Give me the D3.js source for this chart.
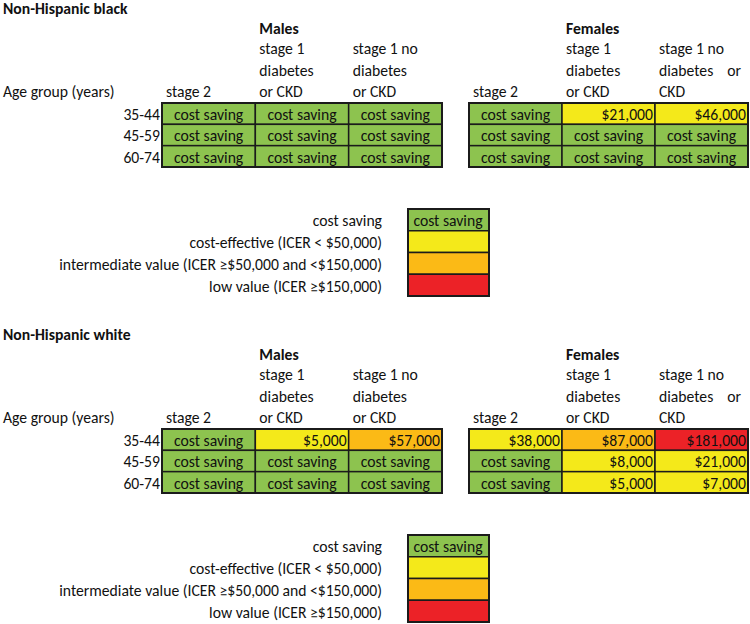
<!DOCTYPE html>
<html><head><meta charset="utf-8">
<script src="https://cdn.jsdelivr.net/npm/d3@7"></script>
<style>body{margin:0;background:#fff}svg{display:block}text{font-family:Carlito,Calibri,Lato,sans-serif;fill:#111}</style>
</head><body><svg id="c" width="750" height="624"></svg>
<script>
const sections = ["Non-Hispanic black", "Non-Hispanic white"];
const sexes = ["Males", "Females"];
const ageGroups = ["35-44", "45-59", "60-74"];
const columns = ["stage 2", "stage 1 diabetes or CKD", "stage 1 no diabetes or CKD"];
const headerLinesMales = [["stage 2"], ["stage 1", "diabetes", "or CKD"], ["stage 1 no", "diabetes", "or CKD"]];
const headerLinesFemales = [["stage 2"], ["stage 1", "diabetes", "or CKD"], ["stage 1 no", "diabetes|or", "CKD"]];
// ICER values in $; null = cost saving
const blackMales = [[null, null, null], [null, null, null], [null, null, null]];
const blackFemales = [[null, 21000, 46000], [null, null, null], [null, null, null]];
const whiteMales = [[null, 5000, 57000], [null, null, null], [null, null, null]];
const whiteFemales = [[38000, 87000, 181000], [null, 8000, 21000], [null, 5000, 7000]];
const legendLabels = ["cost saving", "cost-effective (ICER < $50,000)", "intermediate value (ICER \u2265$50,000 and <$150,000)", "low value (ICER \u2265$150,000)"];
const thresholds = [50000, 150000];
const colGreen = "#8dc34f", colors = ["#f4e91a", "#fbba16", "#ec2227"];

const svg = d3.select("#c");
// font sizing: fit reference text widths
function w(t) { const p = svg.append("text").style("font-size", "100px").text(t); const l = p.node().getComputedTextLength(); p.remove(); return l; }
const F = (100 * 293 / w(legendLabels[2]) + 100 * 73 / w("cost saving") + 100 * 116 / w("Age group (years)")) / 3;

const colorScale = d3.scaleThreshold().domain(thresholds).range(colors);
const fill = v => v == null ? colGreen : colorScale(v);
const fmt = v => "$" + d3.format(",")(v);

const data = [[blackMales, blackFemales], [whiteMales, whiteFemales]];
const sectionY = d3.scaleBand().domain(sections).range([0, 652]);
const tableX = { Males: [162, 442], Females: [469, 748] };

sections.forEach((sec, si) => {
  const g = svg.append("g").attr("transform", `translate(0,${sectionY(sec)})`);
  g.append("text").attr("x", 3).attr("y", 14).style("font-size", F + "px").style("font-weight", "bold").text(sec);
  g.append("text").attr("x", 3).attr("y", 97).style("font-size", F + "px").text("Age group (years)");
  const y = d3.scaleBand().domain(ageGroups).range([103, 167]);
  g.selectAll(".age").data(ageGroups).join("text")
    .attr("x", 160).attr("y", d => y(d) + y.bandwidth() - 4.5).attr("text-anchor", "end")
    .style("font-size", F + "px").text(d => d);
  sexes.forEach((sex, k) => {
    const vals = data[si][k];
    const x = d3.scaleBand().domain(columns).range(tableX[sex]);
    const hl = k === 0 ? headerLinesMales : headerLinesFemales;
    g.append("text").attr("x", x(columns[1]) + 4).attr("y", 34).style("font-size", F + "px").style("font-weight", "bold").text(sex);
    columns.forEach((c, ci) => {
      const lines = hl[ci];
      lines.forEach((ln, li) => {
        const yy = 97 - (lines.length - 1 - li) * 21.3;
        const parts = ln.split("|");
        g.append("text").attr("x", x(c) + 4).attr("y", yy).style("font-size", F + "px").text(parts[0]);
        if (parts[1]) g.append("text").attr("x", x(c) + x.bandwidth() - 7).attr("y", yy).attr("text-anchor", "end").style("font-size", F + "px").text(parts[1]);
      });
    });
    const cells = [];
    ageGroups.forEach((a, ri) => columns.forEach((c, ci) => cells.push({ a, c, v: vals[ri][ci] })));
    const cg = g.selectAll(".cell" + k).data(cells).join("g");
    cg.append("rect").attr("x", d => x(d.c)).attr("y", d => y(d.a)).attr("width", x.bandwidth()).attr("height", y.bandwidth())
      .attr("fill", d => fill(d.v)).attr("stroke", "#1b1b1b").attr("stroke-width", 1.5);
    cg.append("text")
      .attr("x", d => d.v == null ? x(d.c) + x.bandwidth() / 2 : x(d.c) + x.bandwidth() - 2)
      .attr("y", d => y(d.a) + y.bandwidth() - 4.5)
      .attr("text-anchor", d => d.v == null ? "middle" : "end")
      .style("font-size", F + "px").text(d => d.v == null ? "cost saving" : fmt(d.v));
    g.append("rect").attr("x", tableX[sex][0]).attr("y", 103).attr("width", tableX[sex][1] - tableX[sex][0]).attr("height", 64)
      .attr("fill", "none").attr("stroke", "#1b1b1b").attr("stroke-width", 2);
  });
  // legend
  const ly = d3.scaleBand().domain(legendLabels).range([209, 296]);
  const lfill = [colGreen].concat(colors);
  g.selectAll(".lr").data(legendLabels).join("rect")
    .attr("x", 408).attr("y", d => ly(d)).attr("width", 81).attr("height", ly.bandwidth())
    .attr("fill", (d, i) => lfill[i]).attr("stroke", "#1b1b1b").attr("stroke-width", 1.5);
  g.append("rect").attr("x", 408).attr("y", 209).attr("width", 81).attr("height", 87).attr("fill", "none").attr("stroke", "#1b1b1b").attr("stroke-width", 2);
  g.selectAll(".lt").data(legendLabels).join("text")
    .attr("x", 382).attr("y", d => ly(d) + ly.bandwidth() - 4.5).attr("text-anchor", "end")
    .style("font-size", F + "px").text(d => d);
  g.append("text").attr("x", 448).attr("y", ly(legendLabels[0]) + ly.bandwidth() - 4.5).attr("text-anchor", "middle")
    .style("font-size", F + "px").text(legendLabels[0]);
});
</script></body></html>
